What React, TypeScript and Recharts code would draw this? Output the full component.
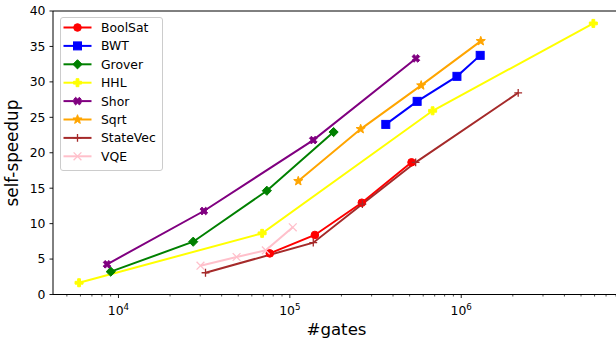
import React from 'react';
import { LineChart, Line, XAxis, YAxis, ReferenceLine, Legend } from 'recharts';

const seriesNames = ['BoolSat', 'BWT', 'Grover', 'HHL', 'Shor', 'Sqrt', 'StateVec', 'VQE'];
const seriesColors = ['#ff0000', '#0000ff', '#008000', '#ffff00', '#800080', '#ffa500', '#a52a2a', '#ffc0cb'];
const seriesMarkers = ['o', 's', 'D', 'P', 'X', '*', '+', 'x'];

const boolSatGates = [76400, 140000, 263000, 513000];
const boolSatSpeedup = [5.8, 8.4, 12.95, 18.65];
const bwtGates = [363000, 553000, 944000, 1290000];
const bwtSpeedup = [24.0, 27.25, 30.78, 33.74];
const groverGates = [9020, 27300, 73400, 180000];
const groverSpeedup = [3.22, 7.45, 14.64, 22.92];
const hhlGates = [5890, 68900, 681000, 5900000];
const hhlSpeedup = [1.66, 8.63, 25.92, 38.25];
const shorGates = [8580, 31500, 137000, 544000];
const shorSpeedup = [4.26, 11.78, 21.79, 33.31];
const sqrtGates = [112000, 259000, 584000, 1300000];
const sqrtSpeedup = [16.0, 23.34, 29.5, 35.75];
const stateVecGates = [32200, 137000, 265000, 542000, 2150000];
const stateVecSpeedup = [3.07, 7.31, 12.76, 18.65, 28.46];
const vqeGates = [30100, 48900, 72400, 104000];
const vqeSpeedup = [4.06, 5.29, 6.23, 9.48];

const seriesGates = [boolSatGates, bwtGates, groverGates, hhlGates, shorGates, sqrtGates, stateVecGates, vqeGates];
const seriesSpeedup = [boolSatSpeedup, bwtSpeedup, groverSpeedup, hhlSpeedup, shorSpeedup, sqrtSpeedup, stateVecSpeedup, vqeSpeedup];

const yTicks = [0, 5, 10, 15, 20, 25, 30, 35, 40];
const xMajorTicks = [10000, 100000, 1000000];
const xMinorTicks = [
  5000, 6000, 7000, 8000, 9000,
  20000, 30000, 40000, 50000, 60000, 70000, 80000, 90000,
  200000, 300000, 400000, 500000, 600000, 700000, 800000, 900000,
  2000000, 3000000, 4000000, 5000000, 6000000, 7000000, 8000000,
];
const xDomain = [4150, 8000000];
const yDomain = [0, 40];
const xLabel = '#gates';
const yLabel = 'self-speedup';

const FONT = 'DejaVu Sans';

function Marker({ type, cx, cy, color }: { type: string; cx: number; cy: number; color: string }) {
  if (cx == null || cy == null || isNaN(cx) || isNaN(cy)) return <g />;
  switch (type) {
    case 'o':
      return <circle cx={cx} cy={cy} r={3.8} fill={color} stroke={color} strokeWidth={1} />;
    case 's':
      return <rect x={cx - 4} y={cy - 4} width={8} height={8} fill={color} stroke={color} strokeWidth={1} />;
    case 'D': {
      const h = 4.6;
      return (
        <polygon
          points={`${cx},${cy - h} ${cx + h},${cy} ${cx},${cy + h} ${cx - h},${cy}`}
          fill={color}
          stroke={color}
          strokeWidth={1}
        />
      );
    }
    case 'P':
    case 'X': {
      const h = 4.0;
      const a = 1.4;
      const pts: [number, number][] = [
        [-a, -h], [a, -h], [a, -a], [h, -a], [h, a], [a, a], [a, h], [-a, h], [-a, a], [-h, a], [-h, -a], [-a, -a],
      ];
      const ang = type === 'X' ? Math.PI / 4 : 0;
      const c = Math.cos(ang);
      const s = Math.sin(ang);
      const p = pts.map(([x, y]) => `${cx + x * c - y * s},${cy + x * s + y * c}`).join(' ');
      return <polygon points={p} fill={color} stroke={color} strokeWidth={1} strokeLinejoin="miter" />;
    }
    case '*': {
      const ro = 4.8;
      const ri = 2.0;
      const p: string[] = [];
      for (let i = 0; i < 10; i++) {
        const r = i % 2 === 0 ? ro : ri;
        const ang = -Math.PI / 2 + (i * Math.PI) / 5;
        p.push(`${cx + r * Math.cos(ang)},${cy + r * Math.sin(ang)}`);
      }
      return <polygon points={p.join(' ')} fill={color} stroke={color} strokeWidth={1} />;
    }
    case '+': {
      const h = 3.9;
      return (
        <path d={`M${cx - h},${cy}H${cx + h}M${cx},${cy - h}V${cy + h}`} stroke={color} strokeWidth={1.3} fill="none" />
      );
    }
    case 'x': {
      const h = 3.9;
      return (
        <path
          d={`M${cx - h},${cy - h}L${cx + h},${cy + h}M${cx - h},${cy + h}L${cx + h},${cy - h}`}
          stroke={color}
          strokeWidth={1.3}
          fill="none"
        />
      );
    }
    default:
      return <g />;
  }
}

function XTick(props: any) {
  const { x, y, payload } = props;
  const v = payload.value as number;
  const lg = Math.log10(v);
  const exp = Math.round(lg);
  const major = Math.abs(lg - exp) < 1e-6;
  return (
    <g>
      <line x1={x} x2={x} y1={y} y2={y + (major ? 3.5 : 2)} stroke="#000" strokeWidth={major ? 0.9 : 0.7} />
      {major && (
        <text x={x} y={y + 20.5} textAnchor="middle" fontSize={12.4} fontFamily={FONT} fill="#000">
          10
          <tspan dy={-5} fontSize={8.7}>
            {exp}
          </tspan>
        </text>
      )}
    </g>
  );
}

function LegendBox() {
  const w = 103;
  const h = 154;
  return (
    <svg width={w} height={h} style={{ display: 'block' }}>
      <rect x={0.5} y={0.5} width={w - 1} height={h - 1} rx={2.5} ry={2.5} fill="#ffffff" fillOpacity={0.8} stroke="#cccccc" strokeWidth={1} />
      {seriesNames.map((name, i) => {
        const cy = 10.5 + i * 18.4;
        return (
          <g key={name}>
            <line x1={3.5} x2={31.5} y1={cy} y2={cy} stroke={seriesColors[i]} strokeWidth={2} />
            <Marker type={seriesMarkers[i]} cx={17.5} cy={cy} color={seriesColors[i]} />
            <text x={41} y={cy} dominantBaseline="central" fontSize={12.4} fontFamily={FONT} fill="#000">
              {name}
            </text>
          </g>
        );
      })}
    </svg>
  );
}

const renderXLabel = () => (
  <text x={336.5} y={335} textAnchor="middle" fontSize={16.6} fontFamily={FONT} fill="#000">
    {xLabel}
  </text>
);

const renderYLabel = () => (
  <text
    x={12}
    y={153}
    transform="rotate(-90 12 153)"
    textAnchor="middle"
    dominantBaseline="central"
    fontSize={16.8}
    fontFamily={FONT}
    fill="#000"
  >
    {yLabel}
  </text>
);

export default function App() {
  return (
    <div style={{ position: 'absolute', left: 0, top: 0, width: 616, height: 344, background: '#fff' }}>
      <LineChart width={616} height={344} margin={{ top: 11, right: 0, left: 0, bottom: 0 }}>
        <XAxis
          dataKey="x"
          type="number"
          scale="log"
          domain={xDomain}
          allowDataOverflow
          ticks={[...xMajorTicks, ...xMinorTicks]}
          interval={0}
          height={49.5}
          tickSize={0}
          tickMargin={0}
          tickLine={false}
          tick={<XTick />}
          axisLine={{ stroke: '#000', strokeWidth: 1 }}
          label={renderXLabel}
        />
        <YAxis
          type="number"
          domain={yDomain}
          ticks={yTicks}
          allowDataOverflow
          width={53}
          tickSize={3.5}
          tickMargin={4}
          interval={0}
          tick={{ fontSize: 12.4, fontFamily: FONT, fill: '#000' }}
          tickLine={{ stroke: '#000', strokeWidth: 0.9 }}
          axisLine={{ stroke: '#000', strokeWidth: 1 }}
          label={renderYLabel}
        />
        <ReferenceLine y={40} stroke="#000" strokeWidth={1} ifOverflow="visible" />
        {seriesNames.map((name, i) => {
          const data = seriesGates[i].map((g, j) => ({ x: g, y: seriesSpeedup[i][j] }));
          return (
            <Line
              key={name}
              name={name}
              data={data}
              dataKey="y"
              stroke={seriesColors[i]}
              strokeWidth={2}
              isAnimationActive={false}
              activeDot={false}
              dot={(p: any) => (
                <Marker key={`${name}-${p.index}`} type={seriesMarkers[i]} cx={p.cx} cy={p.cy} color={seriesColors[i]} />
              )}
            />
          );
        })}
        <Legend
          layout="vertical"
          align="center"
          verticalAlign="middle"
          wrapperStyle={{ left: 60, top: 17, width: 103, height: 154 }}
          content={() => <LegendBox />}
        />
      </LineChart>
    </div>
  );
}
